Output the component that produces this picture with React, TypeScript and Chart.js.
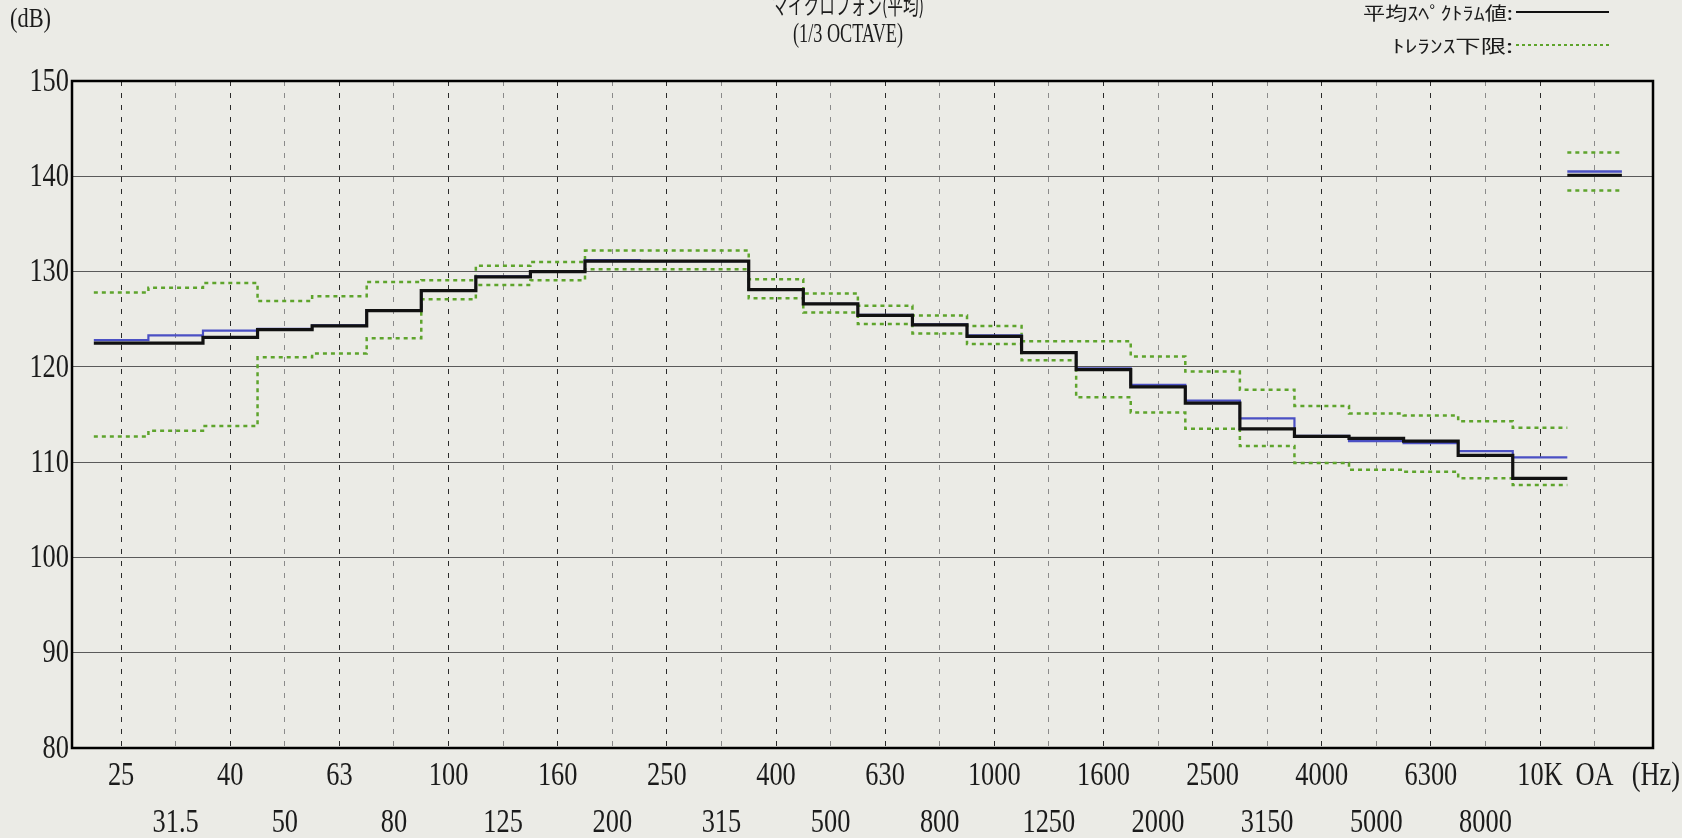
import React, { useEffect, useRef } from 'react';
import { Chart, registerables } from 'chart.js';

Chart.register(...registerables);

// 1/3 octave band centre frequencies (last entry = overall)
const bandLabels = ['25', '31.5', '40', '50', '63', '80', '100', '125', '160', '200', '250', '315', '400', '500', '630', '800', '1000', '1250', '1600', '2000', '2500', '3150', '4000', '5000', '6300', '8000', '10K', 'OA'];

// 平均スペクトラム値 (black)
const averageSpectrum = [122.5, 122.5, 123.1, 123.9, 124.3, 125.9, 128.0, 129.45, 130.0, 131.1, 131.1, 131.1, 128.1, 126.6, 125.4, 124.4, 123.2, 121.5, 119.7, 117.9, 116.2, 113.5, 112.7, 112.5, 112.2, 110.7, 108.3, 140.1];

// reference spectrum (blue)
const referenceSpectrum = [122.8, 123.3, 123.8, 124.0, 124.35, 125.95, 128.05, 129.5, 130.05, 131.2, 131.1, 131.1, 128.1, 126.6, 125.45, 124.45, 123.3, 121.55, 119.85, 118.1, 116.45, 114.6, 112.75, 112.2, 112.0, 111.15, 110.5, 140.5];

// トレランス上限 (green dotted)
const toleranceUpper = [127.8, 128.3, 128.8, 126.9, 127.4, 128.9, 129.1, 130.6, 131.0, 132.2, 132.2, 132.2, 129.2, 127.7, 126.4, 125.4, 124.3, 122.7, 122.7, 121.1, 119.5, 117.6, 115.9, 115.1, 114.9, 114.3, 113.6, 142.5];

// トレランス下限 (green dotted)
const toleranceLower = [112.7, 113.3, 113.8, 121.0, 121.4, 123.0, 127.1, 128.6, 129.1, 130.25, 130.25, 130.25, 127.2, 125.7, 124.5, 123.5, 122.4, 120.7, 116.8, 115.2, 113.5, 111.7, 109.9, 109.2, 109.0, 108.3, 107.6, 138.5];

const yTicks = [80, 90, 100, 110, 120, 130, 140, 150];

const NUM_FONT = "'Liberation Serif', 'DejaVu Serif', serif";
const JP_FONT = "'Noto Sans CJK JP', sans-serif";
const BG = '#ebebe6';
const INK = '#1b1b1b';
const GREEN = '#5ea42c';
const BLUE = '#4b50c4';

const BAND_COUNT = bandLabels.length - 1;

// step polyline for the band spectrum: each band spans its index +/- 0.5
function stepPoints(values: number[]) {
  const pts = values.slice(0, BAND_COUNT).map((v, i) => ({ x: i - 0.5, y: v }));
  pts.push({ x: BAND_COUNT - 0.5, y: values[BAND_COUNT - 1] });
  return pts;
}
function overallPoints(values: number[]) {
  return [
    { x: BAND_COUNT - 0.5, y: values[BAND_COUNT] },
    { x: BAND_COUNT + 0.5, y: values[BAND_COUNT] },
  ];
}

// draw text compressed horizontally to a target width
function drawFitted(ctx: CanvasRenderingContext2D, text: string, font: string, x: number, y: number, width: number, align: 'left' | 'right' | 'center') {
  ctx.save();
  ctx.font = font;
  const w = ctx.measureText(text).width;
  drawScaled(ctx, text, font, x, y, width / w, align);
  ctx.restore();
}
// draw text with a fixed horizontal compression factor
function drawScaled(ctx: CanvasRenderingContext2D, text: string, font: string, x: number, y: number, sx: number, align: 'left' | 'right' | 'center') {
  ctx.save();
  ctx.font = font;
  const width = ctx.measureText(text).width * sx;
  ctx.textBaseline = 'middle';
  ctx.textAlign = 'left';
  let left = x;
  if (align === 'right') left = x - width;
  if (align === 'center') left = x - width / 2;
  ctx.translate(left, y);
  ctx.scale(sx, 1);
  ctx.fillText(text, 0, 0);
  ctx.restore();
}

const TICK_FONT = `33px ${NUM_FONT}`;
const TICK_SX = 0.8;

const decorPlugin = {
  id: 'decor',
  beforeDraw(chart: any) {
    const ctx = chart.ctx as CanvasRenderingContext2D;
    ctx.save();
    ctx.fillStyle = BG;
    ctx.fillRect(0, 0, chart.width, chart.height);
    ctx.restore();
  },
  afterDraw(chart: any) {
    const ctx = chart.ctx as CanvasRenderingContext2D;
    const a = chart.chartArea;
    const xs = chart.scales.x;
    const ys = chart.scales.y;
    ctx.save();
    // frame
    ctx.strokeStyle = '#000';
    ctx.lineWidth = 2.5;
    ctx.strokeRect(a.left, a.top, a.right - a.left, a.bottom - a.top);

    ctx.fillStyle = INK;
    // y tick labels
    yTicks.forEach((v) => {
      drawScaled(ctx, String(v), TICK_FONT, a.left - 3, ys.getPixelForValue(v) + 1, TICK_SX, 'right');
    });
    // x tick labels, two staggered rows
    bandLabels.forEach((lab, i) => {
      const topRow = i % 2 === 0 || i === BAND_COUNT;
      drawScaled(ctx, lab, TICK_FONT, xs.getPixelForValue(i), a.bottom + (topRow ? 28 : 75), TICK_SX, 'center');
    });

    // unit labels
    drawScaled(ctx, '(dB)', `28px ${NUM_FONT}`, 10, 20, 0.8, 'left');
    drawScaled(ctx, '(Hz)', TICK_FONT, 1680, a.bottom + 28, TICK_SX, 'right');

    // titles
    drawFitted(ctx, 'マイクロフォン(平均)', `23px ${JP_FONT}`, 848, 5, 152, 'center');
    drawFitted(ctx, '(1/3 OCTAVE)', `27px ${NUM_FONT}`, 848, 35, 110, 'center');

    // legend
    drawFitted(ctx, '平均ｽﾍﾟｸﾄﾗﾑ値:', `18px ${JP_FONT}`, 1513, 13, 150, 'right');
    drawFitted(ctx, 'ﾄﾚﾗﾝｽ下限:', `18px ${JP_FONT}`, 1513, 46, 121, 'right');
    ctx.strokeStyle = '#111';
    ctx.lineWidth = 2;
    ctx.beginPath();
    ctx.moveTo(1516, 12);
    ctx.lineTo(1609, 12);
    ctx.stroke();
    ctx.strokeStyle = GREEN;
    ctx.setLineDash([3, 3]);
    ctx.beginPath();
    ctx.moveTo(1516, 45);
    ctx.lineTo(1609, 45);
    ctx.stroke();
    ctx.restore();
  },
};

export default function App() {
  const canvasRef = useRef<HTMLCanvasElement | null>(null);

  useEffect(() => {
    const canvas = canvasRef.current;
    if (!canvas) return;

    const line = (data: any[], color: string, width: number, dash: number[] = []) => ({
      data,
      borderColor: color,
      borderWidth: width,
      borderDash: dash,
      stepped: true,
      pointRadius: 0,
      fill: false,
      tension: 0,
    });

    const chart = new Chart(canvas, {
      type: 'line',
      data: {
        datasets: [
          { label: '平均スペクトラム値', ...line(stepPoints(averageSpectrum), '#111111', 3.2) },
          { label: '平均スペクトラム値 OA', ...line(overallPoints(averageSpectrum), '#111111', 3) },
          { label: 'reference', ...line(stepPoints(referenceSpectrum), BLUE, 2.2) },
          { label: 'reference OA', ...line(overallPoints(referenceSpectrum), BLUE, 2.5) },
          { label: 'トレランス上限', ...line(stepPoints(toleranceUpper), GREEN, 2.5, [4, 4]) },
          { label: 'トレランス上限 OA', ...line(overallPoints(toleranceUpper), GREEN, 2.5, [4, 4]) },
          { label: 'トレランス下限', ...line(stepPoints(toleranceLower), GREEN, 2.5, [4, 4]) },
          { label: 'トレランス下限 OA', ...line(overallPoints(toleranceLower), GREEN, 2.5, [4, 4]) },
        ],
      },
      options: {
        responsive: false,
        animation: false,
        devicePixelRatio: 1,
        layout: { padding: { top: 81, right: 29, bottom: 0, left: 0 } },
        plugins: {
          legend: { display: false },
          tooltip: { enabled: false },
          title: { display: false },
        },
        scales: {
          x: {
            type: 'linear',
            bounds: 'data',
            min: -0.9,
            max: 28.07,
            afterBuildTicks: (s: any) => {
              s.ticks = bandLabels.map((_, i) => ({ value: i }));
            },
            afterFit: (s: any) => {
              s.height = 90;
            },
            ticks: { display: false },
            grid: {
              color: (c: any) => (c.tick && Math.round(c.tick.value) % 2 === 0 ? '#2a2a2a' : '#8a8a8a'),
              lineWidth: 1,
              drawTicks: false,
            },
            border: { display: true, color: '#000', width: 2, dash: [5, 7] },
          },
          y: {
            min: 80,
            max: 150,
            afterBuildTicks: (s: any) => {
              s.ticks = yTicks.map((v) => ({ value: v }));
            },
            afterFit: (s: any) => {
              s.width = 72;
            },
            ticks: { display: false },
            grid: { color: '#5a5a5a', lineWidth: 1, drawTicks: false },
            border: { display: true, color: '#000', width: 2 },
          },
        },
      },
      plugins: [decorPlugin],
    } as any);

    return () => chart.destroy();
  }, []);

  return (
    <div style={{ position: 'fixed', left: 0, top: 0, width: 1682, height: 838, background: BG }}>
      <canvas ref={canvasRef} width={1682} height={838} style={{ display: 'block', width: 1682, height: 838 }} />
    </div>
  );
}
